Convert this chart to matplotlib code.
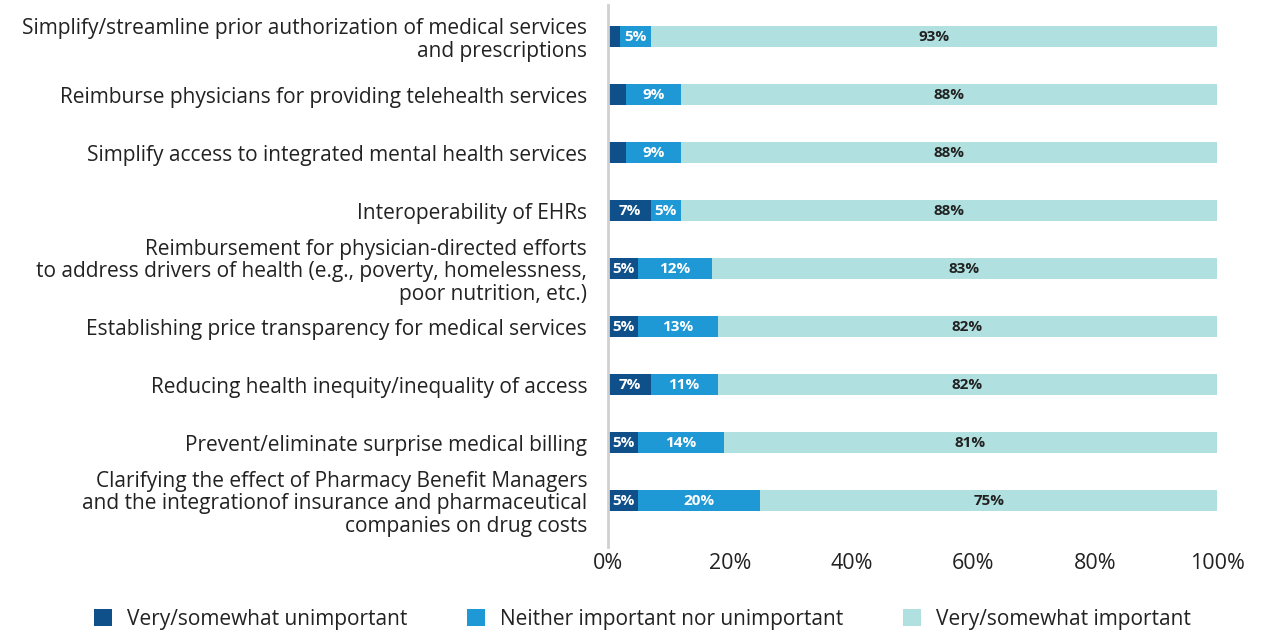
import matplotlib
matplotlib.use("Agg")
import matplotlib.pyplot as plt
import numpy as np

plt.rcParams["font.family"] = ["Open Sans", "DejaVu Sans"]

categories = [
    "Simplify/streamline prior authorization of medical services\nand prescriptions",
    "Reimburse physicians for providing telehealth services",
    "Simplify access to integrated mental health services",
    "Interoperability of EHRs",
    "Reimbursement for physician-directed efforts\nto address drivers of health (e.g., poverty, homelessness,\npoor nutrition, etc.)",
    "Establishing price transparency for medical services",
    "Reducing health inequity/inequality of access",
    "Prevent/eliminate surprise medical billing",
    "Clarifying the effect of Pharmacy Benefit Managers\nand the integrationof insurance and pharmaceutical\ncompanies on drug costs",
]
unimportant = [2, 3, 3, 7, 5, 5, 7, 5, 5]
neither = [5, 9, 9, 5, 12, 13, 11, 14, 20]
important = [93, 88, 88, 88, 83, 82, 82, 81, 75]
series_names = ["Very/somewhat unimportant", "Neither important nor unimportant",
                "Very/somewhat important"]
colors = ["#0f4f8a", "#1f98d6", "#b1e0e0"]
text_colors = ["white", "white", "#222222"]

fig = plt.figure(figsize=(12.67, 6.33), dpi=100)
ax = fig.add_axes([608 / 1267, 86 / 633, 609 / 1267, 542 / 633])

y = np.arange(len(categories))
left = np.zeros(len(categories))
for vals, name, c, tc in zip([unimportant, neither, important], series_names, colors, text_colors):
    vals = np.array(vals, dtype=float)
    ax.barh(y, vals, left=left, height=0.36, color=c, label=name)
    for yi, l, v in zip(y, left, vals):
        if v >= 4:
            ax.text(l + v / 2, yi, f"{int(v)}%", ha="center", va="center",
                    color=tc, fontsize=11, fontweight="bold")
    left += vals

ax.set_xlim(0, 100)
ax.set_ylim(len(categories) - 0.5 + 0.3, -0.5 - 0.05)
ax.set_yticks(y)
ax.set_yticklabels(categories, fontsize=15, color="#222222", linespacing=1.08)
ax.set_xticks([0, 20, 40, 60, 80, 100])
ax.set_xticklabels(["0%", "20%", "40%", "60%", "80%", "100%"], fontsize=15.5, color="#222222")
ax.tick_params(length=0, pad=4)
ax.tick_params(axis="y", pad=15)
for s in ["top", "right", "bottom"]:
    ax.spines[s].set_visible(False)
ax.spines["left"].set_color("#d0d0d0")
ax.spines["left"].set_linewidth(2)

fig.legend(loc="center", bbox_to_anchor=(0.507, 14 / 633), ncol=3, frameon=False,
           fontsize=15, handlelength=0.85, handleheight=0.85, handletextpad=0.7,
           columnspacing=2.9, labelcolor="#222222")

fig.savefig("out.png", dpi=100)
